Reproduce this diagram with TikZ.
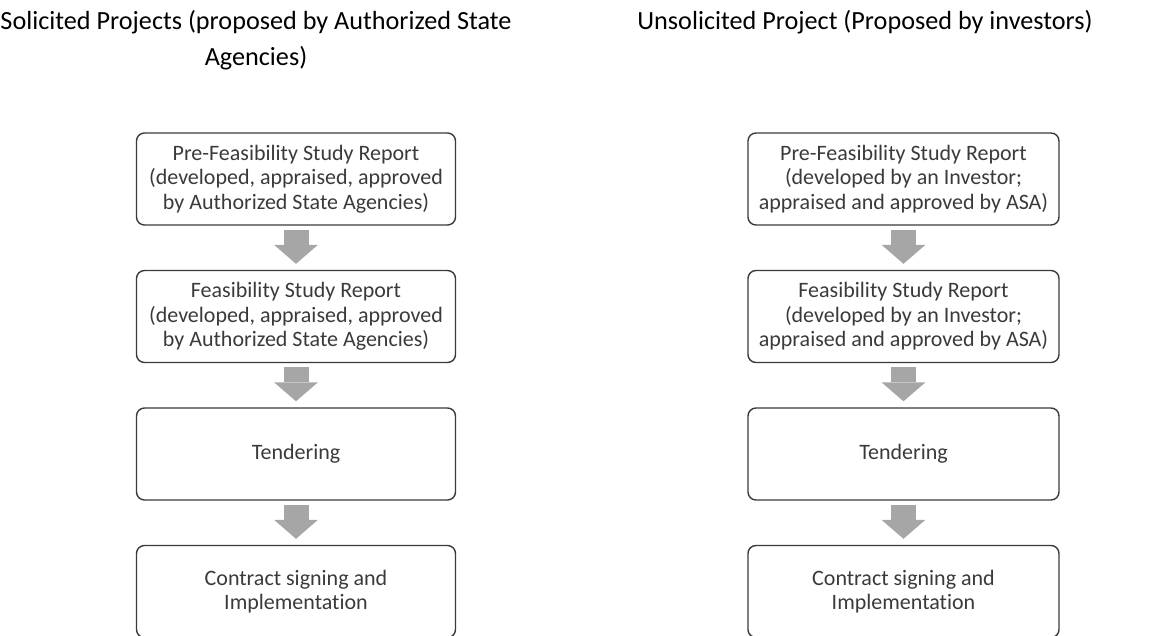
\documentclass[tikz,border=0pt]{standalone}
\usepackage{fontspec}
\setmainfont[Ligatures=NoCommon]{Carlito}
\usetikzlibrary{arrows.meta}
\usetikzlibrary{positioning}
\definecolor{flowgray}{HTML}{A6A6A6}
\definecolor{boxline}{HTML}{3A3A3A}
\definecolor{boxtext}{HTML}{3A3A3A}

\begin{document}
\begin{tikzpicture}[x=1pt,y=-1pt,node distance=137.5pt]
	\tikzstyle{box}=[draw=boxline,line width=1.4pt,rounded corners=8pt,minimum height=92pt,inner sep=0pt,align=center,text=boxtext,font=\fontsize{22}{24.5}\selectfont]
	\tikzstyle{title}=[anchor=base,align=center,font=\fontsize{26.2}{36}\selectfont]
	\tikzstyle{flow}=[draw=flowgray,line width=25pt,shorten <=4pt,shorten >=6pt,-{Triangle[width=44pt,length=19pt,line width=0pt]}]
	\useasboundingbox (0,0) rectangle (1165,636);

	\node[title] (st) at (256,66) {Solicited Projects (proposed by Authorized State\\Agencies)};
	\node[title] (ut) at (865,30) {Unsolicited Project (Proposed by investors)};

	\node[box,minimum width=319pt] (s1) at (296,179) {Pre-Feasibility Study Report\\(developed, appraised, approved\\by Authorized State Agencies)};
	\node[box,minimum width=319pt] (s2) [below of=s1] {Feasibility Study Report\\(developed, appraised, approved\\by Authorized State Agencies)};
	\node[box,minimum width=319pt] (s3) [below of=s2] {Tendering};
	\node[box,minimum width=319pt] (s4) [below of=s3] {Contract signing and\\Implementation};

	\node[box,minimum width=311pt] (u1) at (903.5,179) {Pre-Feasibility Study Report\\(developed by an Investor;\\appraised and approved by ASA)};
	\node[box,minimum width=311pt] (u2) [below of=u1] {Feasibility Study Report\\(developed by an Investor;\\appraised and approved by ASA)};
	\node[box,minimum width=311pt] (u3) [below of=u2] {Tendering};
	\node[box,minimum width=311pt] (u4) [below of=u3] {Contract signing and\\Implementation};

	\path (s1) edge [flow] (s2);
	\path (s2) edge [flow] (s3);
	\path (s3) edge [flow] (s4);
	\path (u1) edge [flow] (u2);
	\path (u2) edge [flow] (u3);
	\path (u3) edge [flow] (u4);
\end{tikzpicture}
\end{document}
